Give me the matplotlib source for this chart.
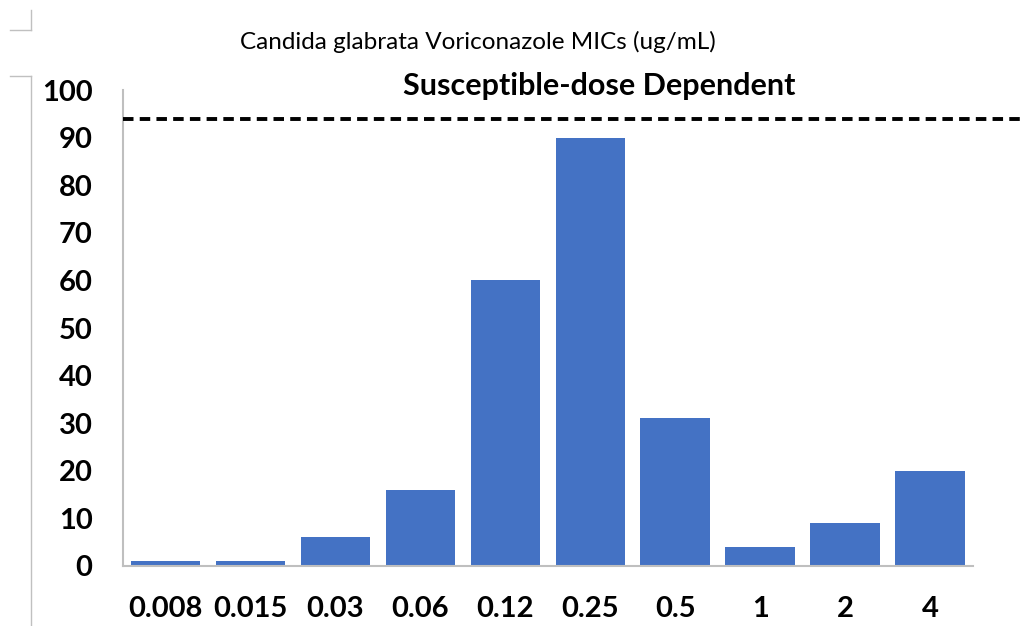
import matplotlib.pyplot as plt
from matplotlib.lines import Line2D

mic_labels = ["0.008", "0.015", "0.03", "0.06", "0.12", "0.25", "0.5", "1", "2", "4"]
counts = [1, 1, 6, 16, 60, 90, 31, 4, 9, 20]
sdd_level = 94
y_ticks = [0, 10, 20, 30, 40, 50, 60, 70, 80, 90, 100]

plt.rcParams['font.family'] = ['Lato', 'DejaVu Sans']

fig = plt.figure(figsize=(10.25, 6.26), dpi=100)
ax = fig.add_axes([0.12, 0.096, 0.829, 0.76])

x = list(range(len(counts)))
ax.bar(x, counts, width=0.82, color='#4472C4', zorder=2)

ax.set_xlim(-0.5, len(counts) - 0.5)
ax.set_ylim(0, 100)
ax.set_yticks(y_ticks)
ax.set_yticklabels([str(t) for t in y_ticks], fontsize=21, fontweight='bold')
ax.set_xticks(x)
ax.set_xticklabels(mic_labels, fontsize=21, fontweight='bold')
ax.tick_params(axis='y', length=0, pad=22)
ax.tick_params(axis='x', length=0, pad=22)

for side in ['top', 'right']:
    ax.spines[side].set_visible(False)
for side in ['left', 'bottom']:
    ax.spines[side].set_color('#bfbfbf')
    ax.spines[side].set_linewidth(1.5)

# SDD breakpoint line runs past the plot area to the edge
ax.plot([-0.5, 10.1], [sdd_level, sdd_level], color='black', lw=2.8,
        linestyle=(0, (2.7, 1.6)), clip_on=False, zorder=3)
ax.text(5.1, 100.8, "Susceptible-dose Dependent", ha='center', va='center',
        fontsize=22, fontweight='bold', clip_on=False)

fig.text(0.466, 0.933, "Candida glabrata Voriconazole MICs (ug/mL)", ha='center',
         va='center', fontsize=17.5)

# frame corners at the left edge
gray = '#c0c0c0'
fig.add_artist(Line2D([10/1025, 31/1025], [1-30/626, 1-30/626], color=gray, lw=1))
fig.add_artist(Line2D([31/1025, 31/1025], [1-10/626, 1-30/626], color=gray, lw=1))
fig.add_artist(Line2D([10/1025, 31/1025], [1-76/626, 1-76/626], color=gray, lw=1))
fig.add_artist(Line2D([31/1025, 31/1025], [1-76/626, 0], color=gray, lw=1))

fig.savefig('out.png', dpi=100)
